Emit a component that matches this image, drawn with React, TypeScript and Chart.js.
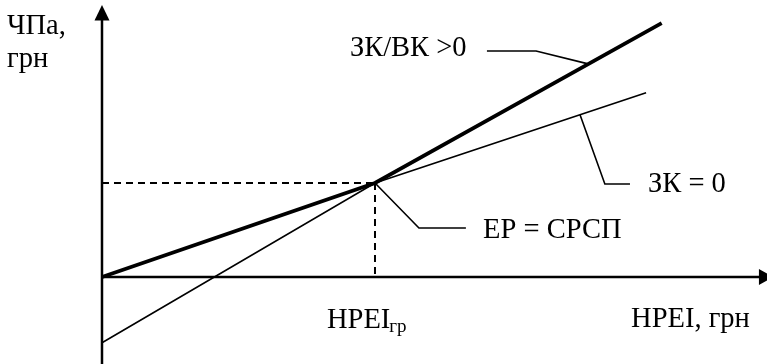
import React, { useEffect, useRef } from "react";
import { Chart, registerables } from "chart.js";

Chart.register(...registerables);

// Data coordinates (x: НРЕІ, y: ЧПа) — schematic units
const thickX = [0, 10, 20.5];
const thickY = [0, 10, 27.0];
const thinX = [0, 10, 19.93];
const thinY = [-7.0, 10, 19.6];

const breakEvenX = 10;
const breakEvenY = 10;

// leader lines for annotations
const leaderLeverX = [14.1, 15.9, 17.77];
const leaderLeverY = [24.04, 24.04, 22.7];
const leaderZeroX = [17.51, 18.42, 19.34];
const leaderZeroY = [17.25, 9.89, 9.89];
const leaderEpX = [10, 11.61, 13.33];
const leaderEpY = [10, 5.21, 5.21];

// axis extents
const xAxisEnd = 24.1;
const yAxisEnd = 27.4;
const xArrowTip = 24.6;
const yArrowTip = 28.94;

const xMin = -3.736;
const xMax = 24.359;
const yMin = -9.255;
const yMax = 29.468;

const labelTexts = ["ЧПа,", "грн", "ЗК/ВК >0", "ЗК = 0", "ЕР = СРСП", "НРЕІ, грн"];
const labelX = [-3.48, -3.48, 9.08, 20.0, 13.96, 19.38];
const labelY = [25.9, 22.3, 23.5, 9.0, 4.2, -5.35];

const subLabelMain = "НРЕІ";
const subLabelSub = "гр";
const subLabelX = 8.24;
const subLabelY = -5.43;

const pts = (xs: number[], ys: number[]) => xs.map((x, i) => ({ x, y: ys[i] }));

const FONT = "'Liberation Serif', 'Times New Roman', serif";

const annotPlugin = {
  id: "annot",
  afterDatasetsDraw(chart: any) {
    const { ctx, scales } = chart;
    const sx = scales.x;
    const sy = scales.y;
    ctx.save();
    ctx.fillStyle = "#000";
    // arrowheads
    const ox = sx.getPixelForValue(0);
    const oy = sy.getPixelForValue(0);
    const xb = sx.getPixelForValue(xAxisEnd);
    const xt = sx.getPixelForValue(xArrowTip);
    ctx.beginPath();
    ctx.moveTo(xb - 1, oy - 8);
    ctx.lineTo(xt, oy);
    ctx.lineTo(xb - 1, oy + 8);
    ctx.closePath();
    ctx.fill();
    const yb = sy.getPixelForValue(yAxisEnd);
    const yt = sy.getPixelForValue(yArrowTip);
    ctx.beginPath();
    ctx.moveTo(ox - 7.5, yb + 1);
    ctx.lineTo(ox, yt);
    ctx.lineTo(ox + 7.5, yb + 1);
    ctx.closePath();
    ctx.fill();

    // labels
    ctx.textAlign = "left";
    ctx.textBaseline = "alphabetic";
    ctx.font = `28.5px ${FONT}`;
    labelTexts.forEach((t, i) => {
      ctx.fillText(t, sx.getPixelForValue(labelX[i]), sy.getPixelForValue(labelY[i]));
    });
    const px = sx.getPixelForValue(subLabelX);
    const py = sy.getPixelForValue(subLabelY);
    ctx.fillText(subLabelMain, px, py);
    const w = ctx.measureText(subLabelMain).width;
    ctx.font = `19px ${FONT}`;
    ctx.fillText(subLabelSub, px + w - 1, py + 4);
    ctx.restore();
  },
};

export default function App() {
  const ref = useRef<HTMLCanvasElement | null>(null);
  useEffect(() => {
    if (!ref.current) return;
    const line = (data: any[], width: number, dash: number[] = []) => ({
      data,
      showLine: true,
      borderColor: "#000",
      borderWidth: width,
      borderDash: dash,
      pointRadius: 0,
      tension: 0,
      fill: false,
      borderCapStyle: "butt",
      borderJoinStyle: "miter",
    });
    const chart = new Chart(ref.current, {
      type: "scatter",
      data: {
        datasets: [
          line(pts([0, xAxisEnd], [0, 0]), 2.5),
          line(pts([0, 0], [yMin, yAxisEnd]), 2.5),
          line(pts([0, breakEvenX], [breakEvenY, breakEvenY]), 2, [7, 5]),
          line(pts([breakEvenX, breakEvenX], [breakEvenY, 0]), 2, [7, 5]),
          line(pts(thinX, thinY), 1.6),
          line(pts(thickX, thickY), 3.8),
          line(pts(leaderLeverX, leaderLeverY), 1.6),
          line(pts(leaderZeroX, leaderZeroY), 1.6),
          line(pts(leaderEpX, leaderEpY), 1.6),
        ] as any,
      },
      options: {
        animation: false,
        responsive: false,
        layout: { padding: 0 },
        plugins: { legend: { display: false }, tooltip: { enabled: false } },
        scales: {
          x: { type: "linear", min: xMin, max: xMax, display: false },
          y: { type: "linear", min: yMin, max: yMax, display: false },
        },
        events: [],
      } as any,
      plugins: [annotPlugin],
    });
    return () => chart.destroy();
  }, []);
  return (
    <div style={{ position: "absolute", left: 0, top: 0, width: 767, height: 364, background: "#fff" }}>
      <canvas ref={ref} width={767} height={364} style={{ display: "block" }} />
    </div>
  );
}
